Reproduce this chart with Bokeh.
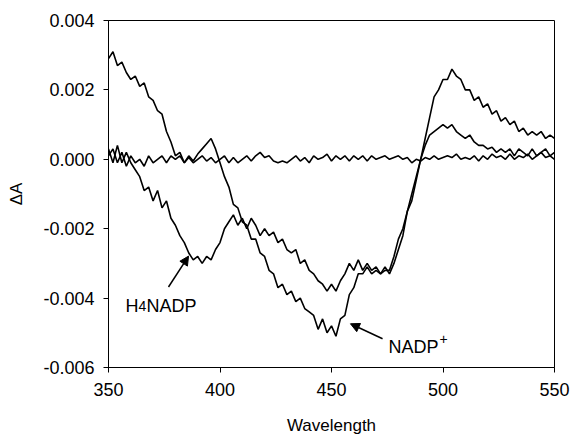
import numpy as np
from bokeh.plotting import figure
from bokeh.models import Range1d, FixedTicker, NumeralTickFormatter, Label, Arrow, NormalHead
from bokeh.embed import file_html
from bokeh.resources import INLINE

# Wavelength grid (nm), 2 nm steps
wavelength = list(range(350, 551, 2))

# Difference spectra, in units of 1e-3 absorbance
nadp_milli = [
    2.9, 3.1, 2.7, 2.8, 2.5, 2.3, 2.4, 2.1, 2.2, 1.8,
    1.7, 1.4, 1.3, 0.8, 0.5, 0.1, 0.2, -0.1, 0.1, -0.05,
    0.15, 0.3, 0.45, 0.6, 0.3, -0.1, -0.5, -0.8, -1.3, -1.4,
    -1.8, -1.9, -2.3, -2.3, -2.7, -2.8, -3.2, -3.3, -3.7, -3.6,
    -3.9, -3.8, -4.1, -4.0, -4.3, -4.4, -4.5, -4.9, -4.6, -5.0,
    -4.8, -5.1, -4.6, -4.5, -3.9, -3.7, -3.3, -3.3, -3.1, -3.3,
    -3.2, -3.3, -3.1, -3.3, -3.0, -2.6, -2.2, -1.5, -1.2, -0.6,
    0.0, 0.6, 1.2, 1.8, 2.0, 2.3, 2.3, 2.6, 2.4, 2.3,
    2.0, 2.0, 1.7, 1.8, 1.5, 1.6, 1.3, 1.4, 1.1, 1.2,
    1.0, 1.1, 0.8, 0.9, 0.7, 0.8, 0.7, 0.8, 0.6, 0.7,
    0.6,
]

h4nadp_milli = [
    0.3, -0.1, 0.4, -0.1, 0.2, -0.1, -0.3, -0.5, -0.9, -0.8,
    -1.2, -0.9, -1.4, -1.2, -1.7, -1.9, -2.2, -2.4, -2.7, -2.9,
    -2.8, -3.0, -2.8, -2.9, -2.6, -2.4, -2.0, -1.8, -1.6, -1.9,
    -1.7, -2.0, -1.7, -1.9, -2.2, -2.0, -2.2, -2.1, -2.4, -2.3,
    -2.6, -2.7, -2.6, -3.0, -2.9, -3.2, -3.3, -3.5, -3.6, -3.8,
    -3.6, -3.8, -3.5, -3.3, -3.0, -3.2, -2.9, -3.2, -3.0, -3.2,
    -3.1, -3.3, -3.2, -3.2, -2.8, -2.3, -2.0, -1.5, -1.0, -0.5,
    0.0, 0.4, 0.7, 0.8, 0.9, 1.0, 0.9, 1.0, 0.8, 0.7,
    0.6, 0.7, 0.5, 0.4, 0.4, 0.3, 0.35, 0.2, 0.3, 0.2,
    0.3, 0.1, 0.3, 0.2, 0.1, 0.3, 0.1, 0.2, 0.3, 0.1,
    0.2,
]

baseline_milli = [
    0.1, 0.3, -0.1, 0.2, -0.2, 0.1, -0.1, 0.0, -0.2, 0.1,
    -0.1, 0.0, 0.1, -0.1, 0.1, 0.0, 0.1, -0.1, 0.05, -0.1,
    0.0, 0.1, -0.05, 0.05, -0.1, 0.0, 0.1, -0.1, 0.05, -0.1,
    0.0, 0.1, -0.05, 0.1, 0.2, 0.05, 0.1, -0.05, -0.1, -0.05,
    -0.1, 0.0, 0.1, -0.05, 0.05, -0.1, 0.1, 0.0, 0.05, 0.15,
    -0.05, 0.1, 0.0, 0.1, -0.05, 0.1, 0.0, 0.1, -0.05, 0.1,
    0.0, 0.05, 0.1, 0.0, 0.05, 0.1, 0.0, 0.05, -0.1, 0.0,
    -0.05, 0.05, 0.0, 0.1, 0.0, 0.05, 0.1, 0.05, 0.15, 0.0,
    0.05, 0.0, 0.1, -0.05, 0.1, 0.0, 0.15, 0.05, 0.1, 0.0,
    0.15, 0.0, 0.1, 0.05, 0.15, 0.0, 0.1, 0.2, 0.05, 0.1,
    0.0,
]

x_ticks = [350, 400, 450, 500, 550]
y_ticks = [-0.006, -0.004, -0.002, 0.0, 0.002, 0.004]

nadp = [v / 1000 for v in nadp_milli]
h4nadp = [v / 1000 for v in h4nadp_milli]
baseline = [v / 1000 for v in baseline_milli]

FONT = "Liberation Sans"

p = figure(width=571, height=437, output_backend="svg", toolbar_location=None,
           x_range=Range1d(350, 550), y_range=Range1d(-0.006, 0.004),
           min_border_left=108, min_border_right=17, min_border_top=20, min_border_bottom=68)
p.background_fill_color = "white"
p.border_fill_color = "white"
p.outline_line_color = "black"
p.outline_line_width = 1
p.xgrid.visible = False
p.ygrid.visible = False

for series in (baseline, h4nadp, nadp):
    p.line(wavelength, series, line_color="black", line_width=1.6)

for ax in (p.xaxis[0], p.yaxis[0]):
    ax.axis_line_color = "black"
    ax.major_tick_line_color = "black"
    ax.major_tick_out = 5
    ax.major_tick_in = 0
    ax.minor_tick_line_color = None
    ax.major_label_text_font = FONT
    ax.major_label_text_font_size = "18px"
    ax.major_label_text_color = "black"
    ax.axis_label_text_font = FONT
    ax.axis_label_text_font_size = "17px"
    ax.axis_label_text_font_style = "normal"
    ax.axis_label_text_color = "black"

p.xaxis.ticker = FixedTicker(ticks=x_ticks)
p.yaxis.ticker = FixedTicker(ticks=y_ticks)
p.yaxis.formatter = NumeralTickFormatter(format="0.000")
p.xaxis.axis_label = "Wavelength"
p.yaxis.axis_label = "ΔA"
p.xaxis.major_label_standoff = 10
p.yaxis.major_label_standoff = 9
p.xaxis.axis_label_standoff = 17
p.yaxis.axis_label_standoff = 14

# Annotations
h4_x, h4_y = 357.6, -0.00422
p.add_layout(Label(x=h4_x, y=h4_y, text="H", text_font=FONT, text_font_size="18px",
                   text_baseline="alphabetic", text_color="black"))
p.add_layout(Label(x=h4_x, y=h4_y, x_offset=13, text="4", text_font=FONT, text_font_size="14px",
                   text_baseline="alphabetic", text_color="black"))
p.add_layout(Label(x=h4_x, y=h4_y, x_offset=21, text="NADP", text_font=FONT, text_font_size="18px",
                   text_baseline="alphabetic", text_color="black"))

nadp_x, nadp_y = 475.6, -0.0054
p.add_layout(Label(x=nadp_x, y=nadp_y, text="NADP", text_font=FONT, text_font_size="18px",
                   text_baseline="alphabetic", text_color="black"))
p.add_layout(Label(x=nadp_x, y=nadp_y, x_offset=51, y_offset=8, text="+", text_font=FONT,
                   text_font_size="14px", text_baseline="alphabetic", text_color="black"))

p.add_layout(Arrow(x_start=376.9, y_start=-0.00368, x_end=385.9, y_end=-0.00279,
                   line_color="black", line_width=1.5,
                   end=NormalHead(size=9, fill_color="black", line_color="black")))
p.add_layout(Arrow(x_start=472.9, y_start=-0.00517, x_end=458.5, y_end=-0.00474,
                   line_color="black", line_width=1.5,
                   end=NormalHead(size=9, fill_color="black", line_color="black")))

open("out.html", "w").write(file_html(p, INLINE))
